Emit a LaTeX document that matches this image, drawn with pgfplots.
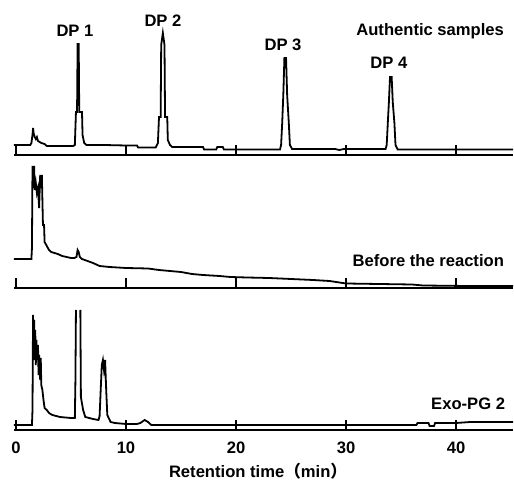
\documentclass[border=0pt]{standalone}
\usepackage{pgfplots}
\pgfplotsset{compat=1.18}
\usepackage{fontspec}
\setmainfont{Liberation Sans}
\newfontfamily\cjk{Noto Sans CJK SC}

% one chromatogram panel: 1 px of the reference = 0.5pt
\pgfplotsset{chrom/.style={
  x=5.5pt, y=0.5pt, xmin=-0.2, xmax=45.2, ymin=0,
  axis x line=bottom, axis y line=none,
  x axis line style={-, line width=1pt},
  xtick={0,10,20,30,40}, tick align=inside, major tick length=5pt,
  tick style={line width=0.9pt, black},
  clip=false, anchor=south west, unbounded coords=jump,
  /pgf/number format/assume math mode=true,
  no marks,
  every axis plot post/.append style={black, line width=0.9pt},
}}

\begin{document}
\begin{tikzpicture}[font=\fontsize{8.3}{10}\selectfont\bfseries]
\useasboundingbox (-6.9pt,-162.5pt) rectangle (250.1pt,77.5pt);

% Authentic samples
\begin{axis}[chrom, at={(0pt,0pt)}, ymax=130, xticklabels={}]
\addplot coordinates {(-0.2,10) (1.3,10) (1.4,12) (1.5,20) (1.55,27) (1.6,22) (1.7,18)
 (1.8,16) (1.9,18) (2.0,14) (2.3,12) (2.6,11) (2.8,9) (5.2,9) (5.35,10) (5.45,43)
 (5.55,43) (5.6,111) (5.7,111) (5.75,43) (6.0,43) (6.05,20) (6.2,12) (6.4,10) (8,10)
 (10,9.5) (11,9.5) (11.1,7.5) (12.7,7.5) (12.9,12) (13.0,38) (13.15,38) (13.2,110)
 (13.35,122) (13.5,110) (13.55,38) (13.75,38) (13.8,15) (14,10) (14.2,8) (17,8)
 (17.1,5.5) (18.2,5.5) (18.3,8) (18.8,8) (18.9,5.5) (24.0,5.5) (24.1,10) (24.2,32)
 (24.3,60) (24.4,97) (24.55,97) (24.65,60) (24.8,32) (24.9,10) (25.1,6) (29,6)
 (29.4,5) (29.8,6) (33.6,6) (33.7,10) (33.8,32) (33.9,53) (34.0,78) (34.15,78)
 (34.25,53) (34.4,32) (34.5,10) (34.7,5.5) (45.2,5.5)};
\node at (axis cs:5.36,124.5) {DP 1};
\node at (axis cs:13.36,134) {DP 2};
\node at (axis cs:24.27,110) {DP 3};
\node at (axis cs:33.9,92) {DP 4};
\node[anchor=east] at (axis cs:45.0,124) {Authentic samples};
\end{axis}

% Before the reaction
\begin{axis}[chrom, at={(0pt,-66.5pt)}, ymax=125, xticklabels={}]
\addplot coordinates {(-0.2,29) (1.4,29) (1.45,40) (1.5,122) (1.6,100) (1.65,122)
 (1.7,98) (1.8,105) (1.9,95) (2.0,100) (2.1,80) (2.2,113) (2.3,100) (2.35,113)
 (2.45,63) (2.55,63) (2.6,46) (2.8,42) (3.0,38) (3.2,36) (3.5,35) (3.8,34) (4.2,32)
 (4.6,31) (5.0,30) (5.3,30) (5.5,31) (5.6,38) (5.7,36) (5.8,31) (6.0,29) (6.5,27)
 (7,25) (7.6,22) (8.5,21) (10,20) (12,19.5) (13,18) (14,17) (15,16) (16,14) (17,13)
 (18.5,12) (19.5,11) (21,10.5) (23,10) (25,9) (27,8) (28.5,7) (30,4.5) (33,4)
 (36,3.5) (37,2.5) (41,2) (45.2,2)};
\node[anchor=east] at (axis cs:45.0,27) {Before the reaction};
\end{axis}

% Exo-PG 2
\begin{axis}[chrom, at={(0pt,-137.5pt)}, ymax=120,
  xticklabel style={yshift=-2.5pt},
  xlabel={Retention time{\cjk （}min{\cjk ）}},
  xlabel style={at={(axis description cs:0.489,-0.392)}, anchor=base}]
\addplot coordinates {(-0.2,5) (1.45,5) (1.5,20) (1.55,115) (1.6,70) (1.65,110)
 (1.7,75) (1.75,100) (1.8,65) (1.85,90) (1.9,70) (2.0,85) (2.05,55) (2.1,75)
 (2.2,50) (2.25,72) (2.3,45) (2.4,40) (2.5,30) (2.6,22) (2.8,20) (3.0,17) (3.3,15)
 (4,13) (5,12) (5.35,12) (5.4,48) (5.45,120) (5.65,nan) (5.85,120) (5.9,33)
 (6.1,20) (6.3,13) (7,11) (7.5,10) (7.6,14) (7.7,40) (7.8,65) (7.9,70) (8.0,60)
 (8.1,70) (8.2,40) (8.3,15) (8.6,8) (9,7) (10,6) (11,6) (11.3,7) (11.7,10) (12,8)
 (12.3,5) (20,5) (36.4,5) (36.5,7) (37.5,7) (37.6,4) (38,4) (38.1,7) (40,7)
 (41.3,8) (45.2,8)};
\node[anchor=east] at (axis cs:45.1,26) {Exo-PG 2};
\end{axis}
\end{tikzpicture}
\end{document}
